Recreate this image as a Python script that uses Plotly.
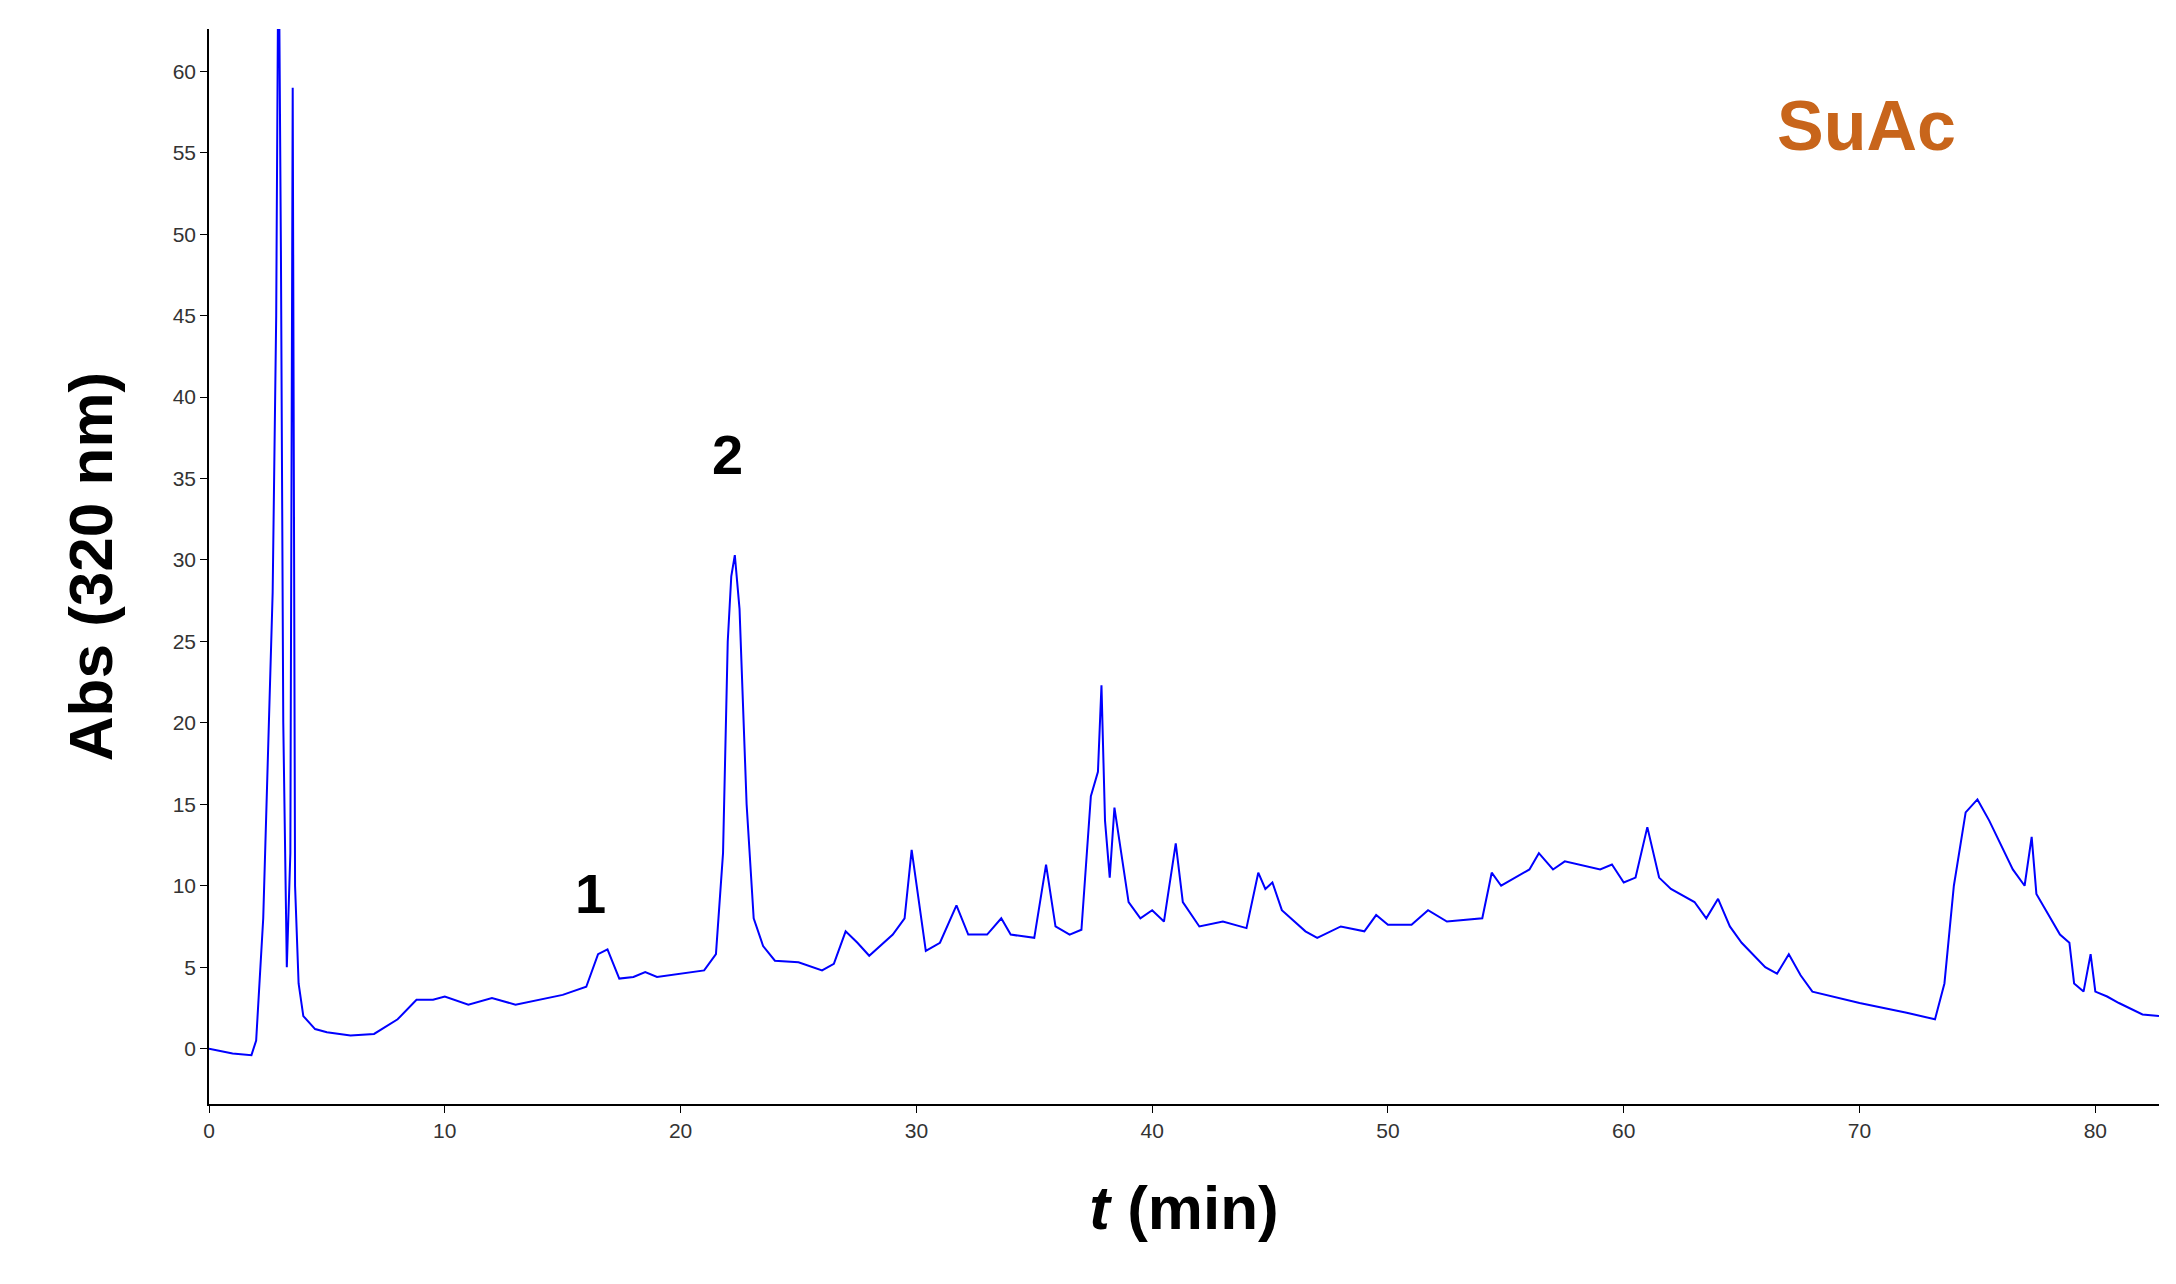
import plotly.graph_objects as go

# retention time (min) and absorbance at 320 nm
t_min = [0, 1, 1.8, 2.0, 2.3, 2.5, 2.7, 2.85, 2.95, 3.05, 3.15, 3.3, 3.45, 3.55, 3.65, 3.8, 4.0, 4.5, 5, 6, 7, 8,
         8.8, 9.5, 10, 11, 12, 13, 14, 15, 16, 16.5, 16.9, 17.4, 18, 18.5, 19, 20, 21, 21.5, 21.8, 22.0, 22.15, 22.3,
         22.5, 22.8, 23.1, 23.5, 24, 25, 26, 26.5, 27, 27.5, 28, 29, 29.5, 29.8, 30.1, 30.4, 31, 31.7, 32.2, 33,
         33.6, 34, 35, 35.5, 35.9, 36.5, 37, 37.4, 37.7, 37.85, 38.0, 38.2, 38.4, 38.7, 39, 39.5, 40, 40.5, 41,
         41.3, 42, 43, 44, 44.5, 44.8, 45.1, 45.5, 46.5, 47, 48, 49, 49.5, 50, 51, 51.7, 52.5, 54, 54.4, 54.8, 56,
         56.4, 57, 57.5, 59, 59.5, 60, 60.5, 61, 61.5, 62, 63, 63.5, 64, 64.5, 65, 66, 66.5, 67, 67.5, 68, 70, 72,
         73.2, 73.6, 74, 74.5, 75, 75.5, 76, 76.5, 77, 77.3, 77.5, 78.5, 78.9, 79.1, 79.5, 79.8, 80, 80.5, 81, 82,
         82.7]
absorb = [0, -0.3, -0.4, 0.5, 8, 18, 28, 45, 70, 49, 20, 5, 12, 59, 10, 4, 2, 1.2, 1.0, 0.8, 0.9, 1.8,
          3.0, 3.0, 3.2, 2.7, 3.1, 2.7, 3.0, 3.3, 3.8, 5.8, 6.1, 4.3, 4.4, 4.7, 4.4, 4.6, 4.8, 5.8, 12, 25, 29, 30.3,
          27, 15, 8, 6.3, 5.4, 5.3, 4.8, 5.2, 7.2, 6.5, 5.7, 7.0, 8, 12.2, 9, 6, 6.5, 8.8, 7, 7.0,
          8.0, 7, 6.8, 11.3, 7.5, 7.0, 7.3, 15.5, 17, 22.3, 14, 10.5, 14.8, 12, 9, 8, 8.5, 7.8, 12.6,
          9, 7.5, 7.8, 7.4, 10.8, 9.8, 10.2, 8.5, 7.2, 6.8, 7.5, 7.2, 8.2, 7.6, 7.6, 8.5, 7.8, 8.0, 10.8, 10, 11,
          12, 11, 11.5, 11, 11.3, 10.2, 10.5, 13.6, 10.5, 9.8, 9, 8, 9.2, 7.5, 6.5, 5.0, 4.6, 5.8, 4.5, 3.5, 2.8, 2.2,
          1.8, 4, 10, 14.5, 15.3, 14, 12.5, 11, 10, 13, 9.5, 7, 6.5, 4, 3.5, 5.8, 3.5, 3.2, 2.8, 2.1,
          2.0]

peak_labels = ['1', '2']
peak_x = [16.2, 22.0]
peak_y = [9.5, 36.5]

fig = go.Figure(go.Scatter(x=t_min, y=absorb, mode='lines',
                           line=dict(color='#0000ff', width=2)))

for lab, px, py in zip(peak_labels, peak_x, peak_y):
    fig.add_annotation(x=px, y=py, text='<b>' + lab + '</b>', showarrow=False,
                       font=dict(size=56, color='black'))

fig.add_annotation(x=0.85, y=0.91, xref='paper', yref='paper', text='<b>SuAc</b>',
                   xanchor='center', yanchor='middle',
                   showarrow=False, font=dict(size=70, color='#c8651b'))

axis = dict(showline=True, linecolor='black', linewidth=1.5, ticks='outside',
            tickcolor='black', ticklen=7, showgrid=False, zeroline=False,
            tickfont=dict(size=21, color='#333'))

fig.update_layout(
    width=2176, height=1284,
    margin=dict(l=201, r=25, t=21, b=188),
    paper_bgcolor='white', plot_bgcolor='white',
    font=dict(family='Liberation Sans, Arial'),
    showlegend=False,
    xaxis=dict(axis, range=[0, 82.7], dtick=10,
               title=dict(text='<b><i>t</i> (min)</b>', font=dict(size=62, color='black'), standoff=45)),
    yaxis=dict(axis, range=[-3.4, 62.6], dtick=5,
               title=dict(text='<b>Abs (320 nm)</b>', font=dict(size=62, color='black'), standoff=40)),
)

fig.write_html("out.html")
